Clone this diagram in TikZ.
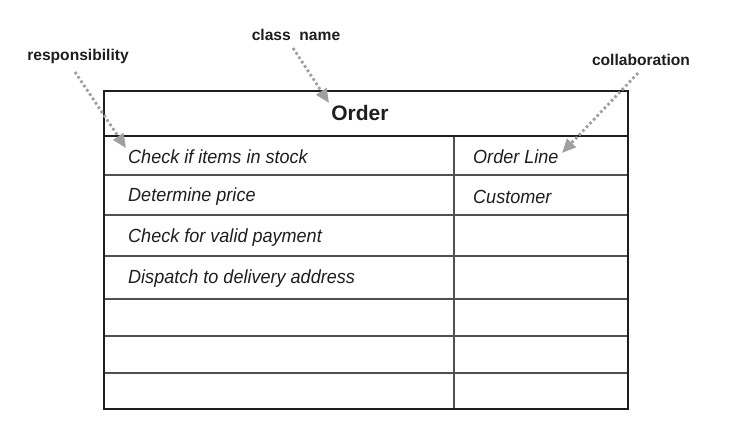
\documentclass[tikz,border=0pt]{standalone}
\usepackage{fontspec}
\setmainfont{Liberation Sans}
\newfontfamily\rowfont[FakeStretch=0.95]{Liberation Sans}
\usetikzlibrary{arrows.meta}
\definecolor{linedark}{RGB}{30,30,30}
\definecolor{linemid}{RGB}{80,80,80}
\definecolor{arrowgray}{RGB}{160,160,160}
\definecolor{labeltext}{RGB}{30,30,30}
\tikzset{
  outerline/.style={draw=linedark, line width=2pt},
  headline/.style={draw=linedark, line width=2.4pt},
  rowline/.style={draw=linemid, line width=1.3pt},
  rowtext/.style={anchor=west, inner sep=0pt, font=\rowfont\itshape\fontsize{19}{21}\selectfont, text=labeltext},
  calltext/.style={inner sep=0pt, font=\bfseries\fontsize{15.6}{17}\selectfont, text=labeltext},
  callout/.style={draw=arrowgray, line width=2.8pt, dash pattern=on 2.6pt off 2.6pt,
    -{Triangle[length=14pt,width=12pt,fill=arrowgray]}},
}
\begin{document}
\begin{tikzpicture}[x=1pt,y=-1pt]
\useasboundingbox (0,0) rectangle (732,435);
\fill[white] (0,0) rectangle (732,435);
% inner lines
\foreach \yy in {175,215,256,299,336,373}
  \draw[rowline] (104,\yy) -- (628,\yy);
\draw[rowline] (454,136) -- (454,409);
\draw[headline] (104,136) -- (628,136);
\draw[outerline] (104,91) rectangle (628,409);
% header
\node[inner sep=0pt, font=\bfseries\fontsize{21}{23}\selectfont, text=labeltext] (order) at (360,113) {Order};
% rows
\node[rowtext] (r1) at (128,157) {Check if items in stock};
\node[rowtext] (r2) at (128,197) {Determine price};
\node[rowtext] (r3) at (128,238) {Check for valid payment};
\node[rowtext] (r4) at (128,279) {Dispatch to delivery address};
\node[rowtext] (c1) at (473,157) {Order Line};
\node[rowtext] (c2) at (473,197) {Customer};
% callout labels
\node[calltext] (lclass) at (296,35) {class\ \ name};
\node[calltext] (lresp) at (78,56) {responsibility};
\node[calltext] (lcoll) at (641,60) {collaboration};
\coordinate (sclass) at (293,48);
\coordinate (sresp) at (75,72);
\coordinate (scoll) at (638,73);
\coordinate (tclass) at (329,103);
\coordinate (tresp) at (126,148);
\coordinate (tcoll) at (562,153);
\draw[callout] (sclass) -- (tclass);
\draw[callout] (sresp) -- (tresp);
\draw[callout] (scoll) -- (tcoll);
\end{tikzpicture}
\end{document}
